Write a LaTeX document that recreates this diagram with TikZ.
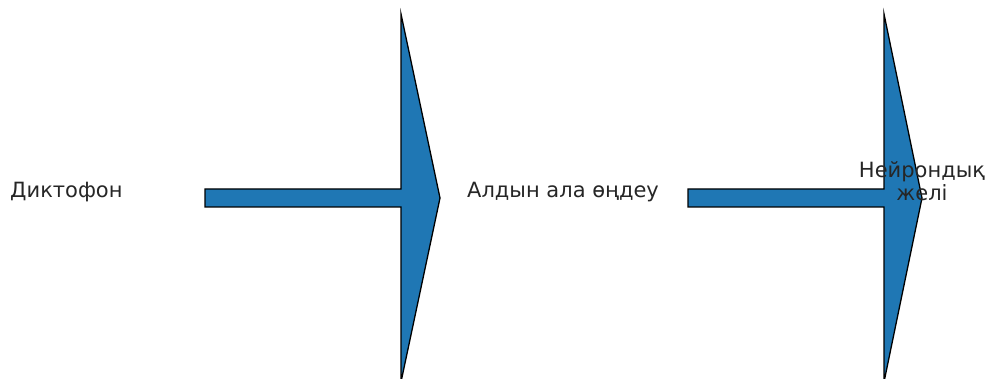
\documentclass[tikz,border=0pt]{standalone}
\usepackage{fontspec}
\setmainfont{DejaVu Sans}
\usepackage{xcolor}
\definecolor{mplblue}{HTML}{1F77B4}
\definecolor{txtgray}{HTML}{262626}

\begin{document}
\begin{tikzpicture}[x=1pt,y=1pt,
    bigarrow/.style={fill=mplblue,draw=black,line width=1.3pt,line join=miter},
    lbl/.style={font=\fontsize{21}{23}\selectfont,text=txtgray,inner sep=0pt}]
  \useasboundingbox (0,0) rectangle (988,378);
  \clip (0,0) rectangle (988,378);
  % arrows
  \foreach \s/\b/\t in {205/401/440, 688/884/922}
     \draw[bigarrow] (\s,171) -- (\b,171) -- (\b,-4) -- (\t,180) -- (\b,364) -- (\b,189) -- (\s,189) -- cycle;
  % labels
  \node[lbl,anchor=west] (dict) at (10,186) {Диктофон};
  \node[lbl,anchor=west] (prep) at (467,186) {Алдын ала өңдеу};
  \node[lbl,align=center] (neur) at (922,197) {Нейрондық\\желі};
\end{tikzpicture}
\end{document}
